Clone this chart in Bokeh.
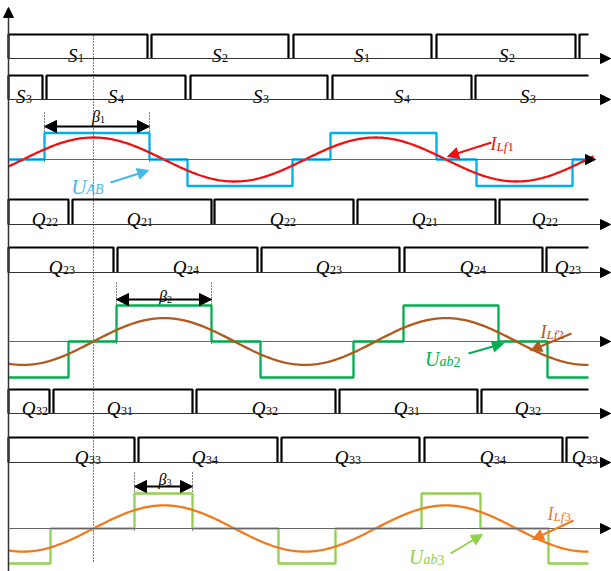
import numpy as np
from bokeh.plotting import figure
from bokeh.models import Range1d, Arrow, NormalHead
from bokeh.core.properties import value
from bokeh.embed import file_html
from bokeh.resources import INLINE

# ---------------- data (time measured along the horizontal axis) ----------------
T0 = 8          # time origin (vertical axis)
T_END = 588     # end of drawn waveforms

# gate pulses: (on, off); last pulse of each row continues past the end
S12_PULSES = [(8, 147), (151, 288), (293, 431), (436, 575), (579, None)]
S12_SUBS = ["1", "2", "1", "2"]
S34_PULSES = [(8, 42), (46, 185), (190, 327), (332, 471), (475, None)]
S34_SUBS = ["3", "4", "3", "4", "3"]
Q2A_PULSES = [(8, 68), (72, 211), (214, 353), (357, 495), (499, None)]
Q2A_SUBS = ["22", "21", "22", "21", "22"]
Q2B_PULSES = [(8, 113), (117, 257), (261, 399), (404, 542), (546, None)]
Q2B_SUBS = ["23", "24", "23", "24", "23"]
Q3A_PULSES = [(8, 49), (53, 192), (196, 335), (339, 477), (481, None)]
Q3A_SUBS = ["32", "31", "32", "31", "32"]
Q3B_PULSES = [(8, 134), (138, 277), (281, 419), (424, 562), (566, None)]
Q3B_SUBS = ["33", "34", "33", "34", "33"]

# label centres (junction of letter and subscript)
S12_LABEL_T = [77, 221, 363, 508]
S34_LABEL_T = [25, 117, 262, 403, 529]
Q2A_LABEL_T = [45, 140, 283, 425, 545]
Q2B_LABEL_T = [62, 186, 329, 473, 568]
Q3A_LABEL_T = [35, 120, 265, 407, 528]
Q3B_LABEL_T = [88, 205, 348, 493, 585]

# three-level voltages: switching instants and levels (+1, 0, -1)
UAB_T = [8, 44, 149, 187, 292, 330, 436, 476, 572, 585]
UAB_L = [0, 1, 0, -1, 0, 1, 0, -1, 0]
UAB2_T = [8, 68, 116, 211, 260, 353, 403, 498, 547, 588]
UAB2_L = [-1, 0, 1, 0, -1, 0, 1, 0, -1]
UAB3_T = [8, 50, 134, 192, 278, 335, 421, 480, 548, 588]
UAB3_L = [-1, 0, 1, 0, -1, 0, 1, 0, -1]

# sinusoidal inductor currents: period, time of peak, amplitude (relative to U)
PERIOD = 282
ILF1_PEAK, ILF1_AMP, ILF1_END = 93, 0.83, 593
ILF2_PEAK, ILF2_AMP = 163.5, 0.65
ILF3_PEAK, ILF3_AMP = 163.5, 0.66

# phase-shift widths (start, end)
BETA1 = (44, 149)
BETA2 = (116, 211)
BETA3 = (134, 192)
REF_T = 93   # dotted reference instant

# ---------------- styles / layout ----------------
FONT = value("Liberation Serif")
BLUE = "#00AEEF"
BLUE_TXT = "#45B8E6"
RED = "#F01010"
GREEN = "#00B050"
BROWN = "#B3581C"
ORANGE = "#F07A1C"
LGREEN = "#92D050"
AXC = "#333333"
ZC = "#666666"

p = figure(width=611, height=571, x_range=Range1d(0, 611), y_range=Range1d(571, 0),
           toolbar_location=None, output_backend="svg", min_border=0)
p.axis.visible = False
p.grid.visible = False
p.outline_line_color = None
p.background_fill_color = "white"
p.border_fill_color = "white"


def harrow(y, x_end=610, color=AXC):
    p.add_layout(Arrow(end=NormalHead(size=10, fill_color="black", line_color="black"),
                       x_start=T0, y_start=y, x_end=x_end, y_end=y,
                       line_color=color, line_width=1.2))


# vertical axis
p.add_layout(Arrow(end=NormalHead(size=10, fill_color="black", line_color="black"),
                   x_start=T0, y_start=571, x_end=T0, y_end=7,
                   line_color=AXC, line_width=1.5))


def pulses(plist, base, top):
    xs, ys = [], []
    for on, off in plist:
        if off is None:
            xs.append([on, on, T_END]); ys.append([base, top, top])
        else:
            xs.append([on, on, off, off]); ys.append([base, top, top, base])
    p.multi_line(xs, ys, line_color="black", line_width=2.2)


def text(x, y, s, size, color="black", italic=True, align="right"):
    p.text(x=[x], y=[y], text=[s], text_font=FONT,
           text_font_style="italic" if italic else "normal",
           text_font_size=f"{size}px", text_color=color,
           text_align=align, text_baseline="alphabetic")


def pulse_labels(letter, subs, ts, y):
    for t, s in zip(ts, subs):
        text(t, y, letter, 19)
        text(t + 0.5, y + 2, s, 12, italic=False, align="left")


ROWS = [
    (S12_PULSES, 58, 34, "S", S12_SUBS, S12_LABEL_T, 55),
    (S34_PULSES, 99, 75, "S", S34_SUBS, S34_LABEL_T, 96),
    (Q2A_PULSES, 224, 199, "Q", Q2A_SUBS, Q2A_LABEL_T, 219),
    (Q2B_PULSES, 272, 247, "Q", Q2B_SUBS, Q2B_LABEL_T, 267),
    (Q3A_PULSES, 413, 389, "Q", Q3A_SUBS, Q3A_LABEL_T, 408),
    (Q3B_PULSES, 462, 437, "Q", Q3B_SUBS, Q3B_LABEL_T, 457),
]
for pl, base, top, letter, subs, ts, ly in ROWS:
    harrow(base)
    pulses(pl, base, top)
    pulse_labels(letter, subs, ts, ly)

WAVES = [  # zero line, voltage amplitude (px)
    (159, 26.5, 595),
    (341, 36.0, 610),
    (528, 35.0, 610),
]
for z, a, tip in WAVES:
    harrow(z, tip, ZC)

# dotted reference line
p.line([REF_T, REF_T], [35, 563], line_color="black", line_width=1, line_dash="1 2")


def step(ts, ls, z, a, color):
    xs, ys = [], []
    for i, lv in enumerate(ls):
        xs += [ts[i], ts[i + 1]]
        ys += [z - a * lv, z - a * lv]
    p.line(xs, ys, line_color=color, line_width=2.3)


def sine(peak, amp, z, a, color, t_end=T_END):
    t = np.linspace(T0, t_end, 400)
    p.line(t, z - a * amp * np.cos(2 * np.pi * (t - peak) / PERIOD), line_color=color, line_width=2.3)


def beta(b, top_y, z, ay, sub, ly):
    for t in b:
        p.line([t, t], [top_y, z + 3], line_color="black", line_width=1, line_dash="1 2")
    p.add_layout(Arrow(start=NormalHead(size=12, fill_color="black", line_color="black"),
                       end=NormalHead(size=12, fill_color="black", line_color="black"),
                       x_start=b[0], y_start=ay, x_end=b[1], y_end=ay,
                       line_color="black", line_width=2))
    mid = (b[0] + b[1]) / 2 + 3
    text(mid, ly, "β", 16)
    text(mid, ly + 3, sub, 10, italic=False, align="left")


beta(BETA1, 112, 159, 126, "1", 116)
beta(BETA2, 282, 341, 299, "2", 296)
beta(BETA3, 472, 528, 486, "3", 479)

step(UAB_T, UAB_L, 159, 26.5, BLUE)
sine(ILF1_PEAK, ILF1_AMP, 159, 26.5, RED, ILF1_END)
step(UAB2_T, UAB2_L, 341, 36.0, GREEN)
sine(ILF2_PEAK, ILF2_AMP, 341, 36.0, BROWN)
step(UAB3_T, UAB3_L, 528, 35.0, LGREEN)
sine(ILF3_PEAK, ILF3_AMP, 528, 35.0, ORANGE)


def callout(x0, y0, x1, y1, color):
    p.add_layout(Arrow(end=NormalHead(size=11, fill_color=color, line_color=color),
                       x_start=x0, y_start=y0, x_end=x1, y_end=y1,
                       line_color=color, line_width=2))


callout(110, 182, 148, 170, BLUE_TXT)
callout(491, 142, 447, 156, RED)
callout(468, 353, 503, 343, GREEN)
callout(571, 333, 530, 350, BROWN)
callout(450, 553, 482, 534, LGREEN)
callout(573, 520, 532, 539, ORANGE)

# signal names
text(86, 186, "U", 21, BLUE_TXT)
text(86, 189, "AB", 14, BLUE_TXT, align="left")

text(496, 143, "I", 18, RED)
text(496, 146, "Lf", 13, RED, align="left")
text(507, 146, "1", 13, RED, italic=False, align="left")

text(439, 358, "U", 20, GREEN)
text(439, 361, "ab", 14, GREEN, align="left")
text(453, 361, "2", 14, GREEN, italic=False, align="left")

text(546, 331, "I", 18, BROWN)
text(546, 334, "Lf", 13, BROWN, align="left")
text(557, 334, "2", 13, BROWN, italic=False, align="left")

text(423, 556, "U", 20, LGREEN)
text(423, 559, "ab", 14, LGREEN, align="left")
text(437, 559, "3", 14, LGREEN, italic=False, align="left")

text(553, 513, "I", 18, ORANGE)
text(553, 516, "Lf", 13, ORANGE, align="left")
text(564, 516, "3", 13, ORANGE, italic=False, align="left")

open("out.html", "w").write(file_html(p, INLINE))
